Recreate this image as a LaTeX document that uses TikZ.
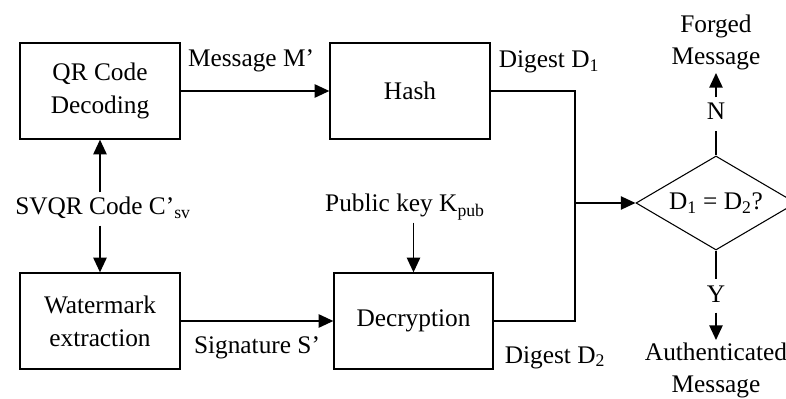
\documentclass[tikz,border=0pt]{standalone}
\usepackage{fontspec}
\setmainfont{Liberation Serif}
\usetikzlibrary{arrows.meta,shapes.geometric}

\begin{document}
\begin{tikzpicture}[x=0.75pt,y=0.75pt,yscale=-1,xscale=1,
		every node/.style={font=\fontsize{19}{24}\selectfont},
		block/.style={draw, line width=1pt, minimum width=120pt, minimum height=72pt, inner sep=0pt, align=center, font=\fontsize{19}{24.75}\selectfont},
		decision/.style={draw, shape=diamond, aspect=1.6, line width=0.8pt, minimum width=120pt, minimum height=70.5pt, inner sep=0pt},
		lbl/.style={inner sep=0pt, outer sep=4pt, text height=13pt, text depth=4pt},
		mlbl/.style={inner sep=0pt, outer sep=2.5pt, align=center, font=\fontsize{19}{24}\selectfont},
		link/.style={line width=1.1pt},
		arr/.style={line width=1.1pt, -{Triangle[length=11pt,width=10pt]}}]
		\useasboundingbox (0,0) rectangle (786,399);
		
		% Shape: Rectangle
		\node [block] (qrdec) at (100,91) {QR Code\\Decoding};
		% Shape: Rectangle
		\node [block] (hash) at (410,91) {Hash};
		% Shape: Rectangle
		\node [block] (wmext) at (100,321) {Watermark\\extraction};
		% Shape: Rectangle
		\node [block, minimum width=119.25pt] (decrypt) at (413.5,321) {Decryption};
		% Shape: Diamond
		\node [decision] (check) at (716,203) {D\textsubscript{1} = D\textsubscript{2}?};
		
		% Text Node
		\node [lbl, anchor=base] (msg) at (251,67) {Message M’};
		% Text Node
		\node [lbl, anchor=base] (dgone) at (549,68) {Digest D\textsubscript{1}};
		% Text Node
		\node [lbl, anchor=base] (svqr) at (103,215) {SVQR Code C’\textsubscript{sv}};
		% Text Node
		\node [lbl, anchor=base] (pubkey) at (405,212) {Public key K\textsubscript{pub}};
		% Text Node
		\node [lbl, anchor=base] (sig) at (257,353) {Signature S’};
		% Text Node
		\node [lbl, anchor=base] (dgtwo) at (555,363) {Digest D\textsubscript{2}};
		% Text Node
		\node [lbl, anchor=base] (nolab) at (716,120) {N};
		% Text Node
		\node [lbl, anchor=base] (yeslab) at (716,302) {Y};
		% Text Node
		\node [mlbl, anchor=south] (forged) at (716,73) {Forged\\Message};
		% Text Node
		\node [mlbl, anchor=north] (auth) at (716,340) {Authenticated\\Message};
		
		% Connection
		\draw [arr] (qrdec.east) -- (hash.west);
		\draw [arr] (wmext.east) -- (decrypt.west);
		\draw [arr] (svqr.north -| qrdec.south) -- (qrdec.south);
		\draw [arr] (svqr.south -| wmext.north) -- (wmext.north);
		\draw [arr] (pubkey.south -| decrypt.north) -- (decrypt.north);
		% Connection
		\coordinate (join) at (575,203);
		\draw [link] (hash.east) -| (join);
		\draw [link] (decrypt.east) -| (join);
		\draw [arr] (join) -- (check.west);
		% Connection
		\draw [link] (check.north) -- (nolab.south);
		\draw [arr] (nolab.north) -- (forged.south);
		\draw [link] (check.south) -- (yeslab.north);
		\draw [arr] (yeslab.south) -- (auth.north);
	\end{tikzpicture}
\end{document}
